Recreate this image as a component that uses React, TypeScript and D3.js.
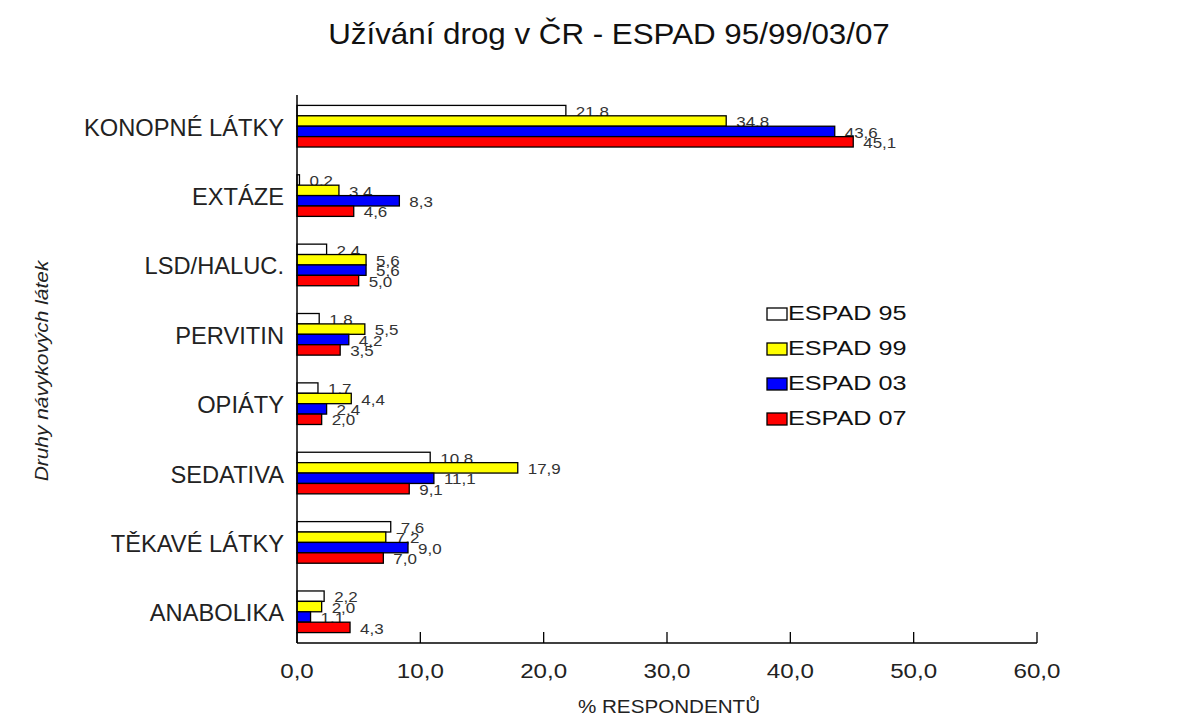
import * as d3 from "d3";

const categories = ["KONOPNÉ LÁTKY", "EXTÁZE", "LSD/HALUC.", "PERVITIN", "OPIÁTY", "SEDATIVA", "TĚKAVÉ LÁTKY", "ANABOLIKA"];
const seriesNames = ["ESPAD 95", "ESPAD 99", "ESPAD 03", "ESPAD 07"];
const seriesColors = ["#ffffff", "#ffff00", "#0000ff", "#ff0000"];
const espad95 = [21.8, 0.2, 2.4, 1.8, 1.7, 10.8, 7.6, 2.2];
const espad99 = [34.8, 3.4, 5.6, 5.5, 4.4, 17.9, 7.2, 2.0];
const espad03 = [43.6, 8.3, 5.6, 4.2, 2.4, 11.1, 9.0, 1.1];
const espad07 = [45.1, 4.6, 5.0, 3.5, 2.0, 9.1, 7.0, 4.3];
const xTicks = [0, 10, 20, 30, 40, 50, 60];

const series = [espad95, espad99, espad03, espad07];

// text stretched horizontally a bit, like the original export
function T({ x, y, size, sx = 1, anchor = "start", rotate = 0, italic = false, fill = "#222", children }: any) {
  return (
    <text transform={`translate(${x},${y}) rotate(${rotate}) scale(${sx},1)`} fontSize={size}
      textAnchor={anchor} fontStyle={italic ? "italic" : "normal"} fill={fill}>{children}</text>
  );
}

export default function App() {
  const width = 1178;
  const height = 718;
  const left = 297;
  const right = 1037;
  const top = 95;
  const bottom = 643;
  const font = "'Liberation Sans', Arial, sans-serif";

  const x = d3.scaleLinear().domain([0, 60]).range([left, right]);
  const y = d3.scaleBand().domain(categories).range([top, bottom]).paddingInner(0.4).paddingOuter(0.15);
  const yInner = d3.scaleBand().domain(seriesNames).range([0, y.bandwidth()]);
  const fmt = (v: number) => v.toFixed(1).replace(".", ",");

  return (
    <svg width={width} height={height} style={{ position: "absolute", left: 0, top: 0 }} fontFamily={font}>
      <rect width={width} height={height} fill="#fff" />
      <T x={609} y={44} size={29} sx={1.08} anchor="middle" fill="#111">Užívání drog v ČR - ESPAD 95/99/03/07</T>

      {categories.map((c, i) => (
        <g key={c}>
          {series.map((s, k) => {
            const by = (y(c) as number) + (yInner(seriesNames[k]) as number);
            return (
              <g key={k}>
                <rect x={x(0)} y={by} width={x(s[i]) - x(0)} height={yInner.bandwidth()}
                  fill={seriesColors[k]} stroke="#000" strokeWidth={1.3} />
                <T x={x(s[i]) + 10} y={by + yInner.bandwidth() + 1} size={14.5} sx={1.17} fill="#333">{fmt(s[i])}</T>
              </g>
            );
          })}
          <T x={284} y={(y(c) as number) + y.bandwidth() / 2 + 9.5} size={23} sx={1.03} anchor="end" fill="#222">{c}</T>
        </g>
      ))}

      <line x1={left} x2={left} y1={top} y2={bottom} stroke="#000" strokeWidth={1.5} />
      <line x1={left} x2={right} y1={bottom} y2={bottom} stroke="#000" strokeWidth={1.6} />
      {xTicks.map(t => (
        <g key={t}>
          <line x1={x(t)} x2={x(t)} y1={bottom} y2={bottom - 11} stroke="#000" strokeWidth={1.3} />
          <T x={x(t)} y={678} size={21} sx={1.15} anchor="middle" fill="#222">{fmt(t)}</T>
        </g>
      ))}
      <T x={669} y={713} size={18.6} sx={1.11} anchor="middle" fill="#222">% RESPONDENTŮ</T>
      <T x={47.5} y={371} size={19} sx={1.1} rotate={-90} anchor="middle" italic fill="#222">Druhy návykových látek</T>

      {seriesNames.map((n, k) => (
        <g key={n} transform={`translate(767,${320 + k * 35})`}>
          <rect x={0} y={-12} width={20} height={12} fill={seriesColors[k]} stroke="#000" strokeWidth={1.3} />
          <T x={21} y={0} size={21} sx={1.2} fill="#111">{n}</T>
        </g>
      ))}
    </svg>
  );
}
